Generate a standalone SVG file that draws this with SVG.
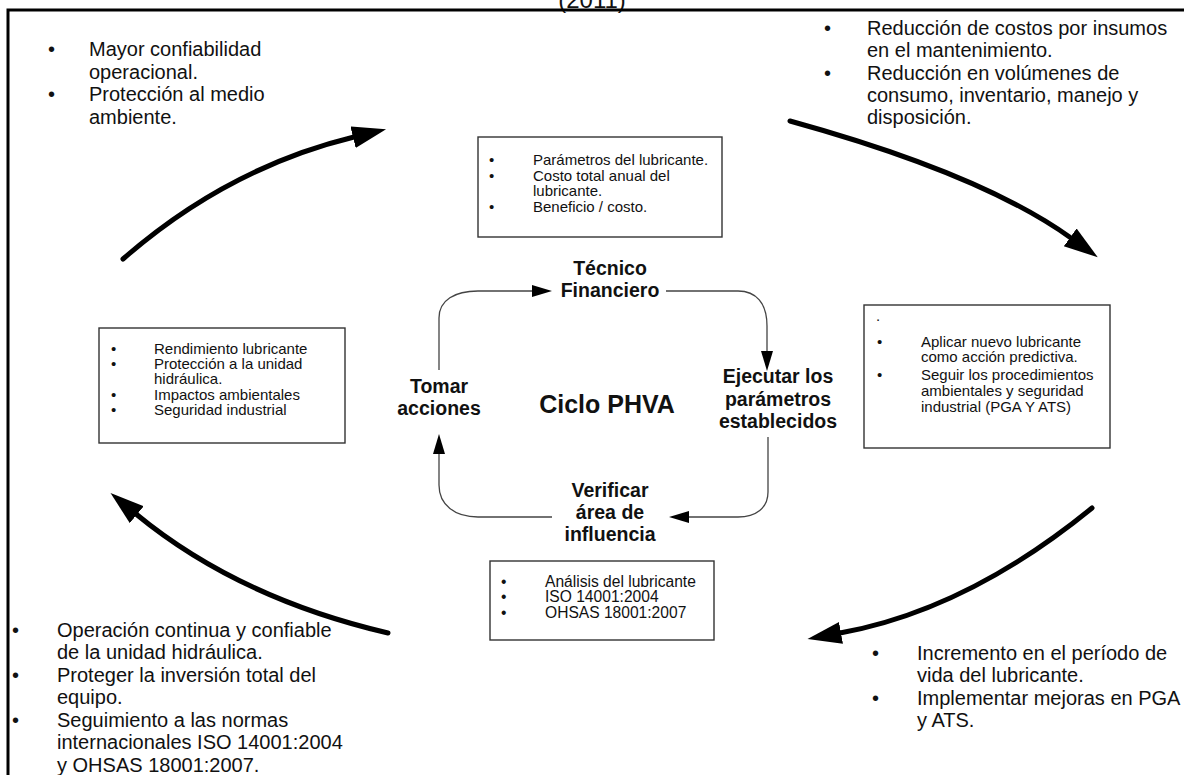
<svg xmlns="http://www.w3.org/2000/svg" width="1184" height="775" viewBox="0 0 1184 775">
<style>
text{font-family:"Liberation Sans",Arial,sans-serif;fill:#111}
.big{font-size:20px}
.sm{font-size:15px}
.sm2{font-size:15.6px}
.bold{font-weight:bold;font-size:19.5px;text-anchor:middle}
.box{fill:#fff;stroke:#333;stroke-width:1.4}
.thick{fill:none;stroke:#000;stroke-width:5;stroke-linecap:round}
.thin{fill:none;stroke:#444;stroke-width:1.3}
</style>
<defs>
<marker id="bigArrow" markerUnits="userSpaceOnUse" markerWidth="36" markerHeight="24" refX="1" refY="11" orient="auto">
<path d="M0,0 L34,11 L0,22 z" fill="#000"/>
</marker>
<marker id="smArrow" markerUnits="userSpaceOnUse" markerWidth="22" markerHeight="14" refX="0" refY="6" orient="auto">
<path d="M0,0 L20,6 L0,12 z" fill="#000"/>
</marker>
</defs>
<rect width="1184" height="775" fill="#fff"/>
<text x="592" y="8" font-size="24" text-anchor="middle">(2011)</text>
<path d="M8,776 L8,10 L1185,10" fill="none" stroke="#000" stroke-width="3"/>

<g id="outcome-top-left">
<text x="48" y="56" class="big">•</text><text x="89" y="56" class="big">Mayor confiabilidad</text>
<text x="89" y="79" class="big">operacional.</text>
<text x="48" y="101" class="big">•</text><text x="89" y="101" class="big">Protección al medio</text>
<text x="89" y="124" class="big">ambiente.</text>
</g>
<g id="outcome-top-right">
<text x="824" y="35" class="big">•</text><text x="867" y="35" class="big">Reducción de costos por insumos</text>
<text x="867" y="57" class="big">en el mantenimiento.</text>
<text x="824" y="80" class="big">•</text><text x="867" y="80" class="big">Reducción en volúmenes de</text>
<text x="867" y="102" class="big">consumo, inventario, manejo y</text>
<text x="867" y="124" class="big">disposición.</text>
</g>
<g id="outcome-bottom-right">
<text x="872" y="660" class="big">•</text><text x="917" y="660" class="big">Incremento en el período de</text>
<text x="917" y="682" class="big">vida del lubricante.</text>
<text x="872" y="705" class="big">•</text><text x="917" y="705" class="big">Implementar mejoras en PGA</text>
<text x="917" y="727" class="big">y ATS.</text>
</g>
<g id="outcome-bottom-left">
<text x="12" y="637" class="big">•</text><text x="57" y="637" class="big">Operación continua y confiable</text>
<text x="57" y="659" class="big">de la unidad hidráulica.</text>
<text x="12" y="682" class="big">•</text><text x="57" y="682" class="big">Proteger la inversión total del</text>
<text x="57" y="704" class="big">equipo.</text>
<text x="12" y="727" class="big">•</text><text x="57" y="727" class="big">Seguimiento a las normas</text>
<text x="57" y="749" class="big">internacionales ISO 14001:2004</text>
<text x="57" y="772" class="big">y OHSAS 18001:2007.</text>
</g>

<g id="box-planear">
<rect x="478" y="137" width="244" height="100" class="box"/>
<text x="489" y="165" class="sm">•</text><text x="533" y="165" class="sm">Parámetros del lubricante.</text>
<text x="489" y="181" class="sm">•</text><text x="533" y="181" class="sm">Costo total anual del</text>
<text x="533" y="196" class="sm">lubricante.</text>
<text x="489" y="212" class="sm">•</text><text x="533" y="212" class="sm">Beneficio / costo.</text>
</g>
<g id="box-actuar">
<rect x="99" y="328" width="246" height="115" class="box"/>
<text x="111" y="354" class="sm">•</text><text x="154" y="354" class="sm">Rendimiento lubricante</text>
<text x="111" y="369" class="sm">•</text><text x="154" y="369" class="sm">Protección a la unidad</text>
<text x="154" y="384" class="sm">hidráulica.</text>
<text x="111" y="400" class="sm">•</text><text x="154" y="400" class="sm">Impactos ambientales</text>
<text x="111" y="415" class="sm">•</text><text x="154" y="415" class="sm">Seguridad industrial</text>
</g>
<g id="box-hacer">
<rect x="864" y="305" width="246" height="143" class="box"/>
<text x="876" y="321" class="sm">.</text>
<text x="877" y="347" class="sm">•</text><text x="921" y="347" class="sm">Aplicar nuevo lubricante</text>
<text x="921" y="362" class="sm">como acción predictiva.</text>
<text x="877" y="380" class="sm">•</text><text x="921" y="380" class="sm">Seguir los procedimientos</text>
<text x="921" y="396" class="sm">ambientales y seguridad</text>
<text x="921" y="412" class="sm">industrial (PGA Y ATS)</text>
</g>
<g id="box-verificar">
<rect x="490" y="561" width="224" height="79" class="box"/>
<text x="501" y="587" class="sm2">•</text><text x="545" y="587" class="sm2">Análisis del lubricante</text>
<text x="501" y="602" class="sm2">•</text><text x="545" y="602" class="sm2">ISO 14001:2004</text>
<text x="501" y="618" class="sm2">•</text><text x="545" y="618" class="sm2">OHSAS 18001:2007</text>
</g>

<g id="stage-planear"><text x="610" y="275" class="bold">Técnico</text><text x="610" y="297" class="bold">Financiero</text></g>
<g id="stage-hacer"><text x="778" y="383" class="bold">Ejecutar los</text><text x="778" y="406" class="bold">parámetros</text><text x="778" y="428" class="bold">establecidos</text></g>
<g id="stage-verificar"><text x="610" y="497" class="bold">Verificar</text><text x="610" y="519" class="bold">área de</text><text x="610" y="541" class="bold">influencia</text></g>
<g id="stage-actuar"><text x="439" y="393" class="bold">Tomar</text><text x="439" y="415" class="bold">acciones</text></g>
<g id="title"><text x="607" y="413" font-size="25" font-weight="bold" text-anchor="middle">Ciclo PHVA</text></g>

<g id="connectors">
<path class="thin" d="M439,370 L439,318 C439,300 455,291 478,291 L532,291" marker-end="url(#smArrow)"/>
<path class="thin" d="M666,291 L738,291 C756,291 767,303 767,326 L767,351" marker-end="url(#smArrow)"/>
<path class="thin" d="M768,437 L768,492 C768,508 756,517 738,517 L689,517" marker-end="url(#smArrow)"/>
<path class="thin" d="M552,517 L478,517 C455,517 439,505 439,485 L439,454" marker-end="url(#smArrow)"/>
<path class="thick" d="M123,259 Q227,168 354,137" marker-end="url(#bigArrow)"/>
<path class="thick" d="M790,121 Q982,174 1071,238" marker-end="url(#bigArrow)"/>
<path class="thick" d="M1092,508 Q967,610 840,633" marker-end="url(#bigArrow)"/>
<path class="thick" d="M388,633 Q238,598 136,514" marker-end="url(#bigArrow)"/>
</g>
</svg>
